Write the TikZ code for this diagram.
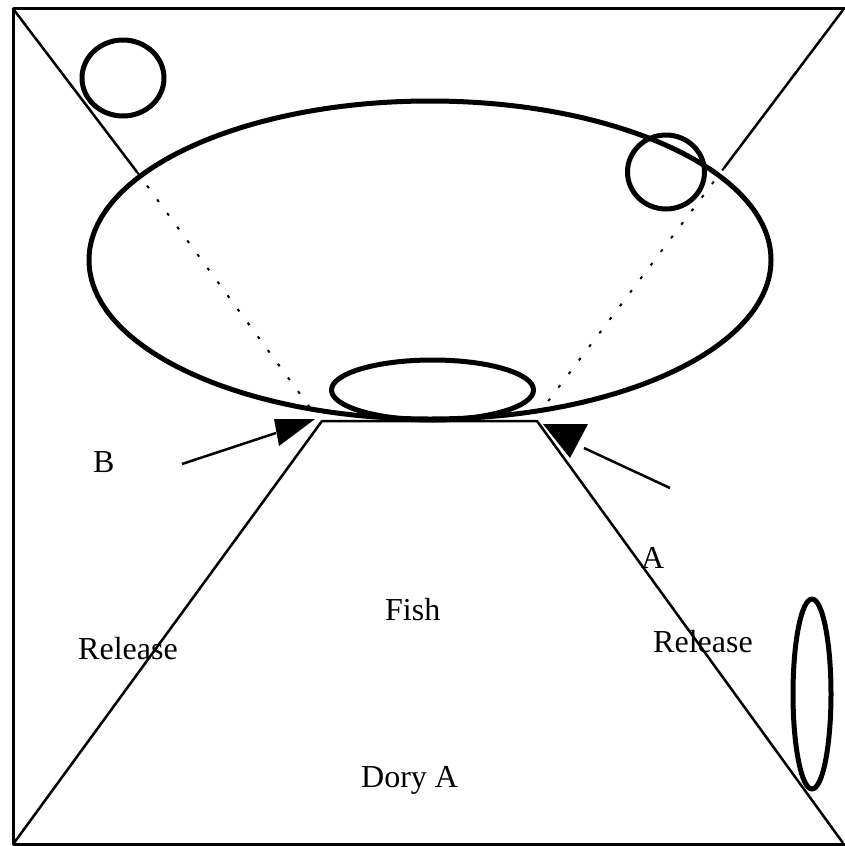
\documentclass[tikz,border=0pt]{standalone}
\usepackage{fontspec}
\setmainfont{Liberation Serif}
\begin{document}
\begin{tikzpicture}[x=1pt,y=-1pt,line join=round]
\tikzset{
  frame/.style={line width=3pt},
  ring/.style={line width=5pt},
  solidray/.style={line width=2.5pt},
  dotray/.style={line width=2pt,dash pattern=on 3pt off 14pt},
  shaft/.style={line width=2.5pt},
  headfill/.style={fill=black},
  lbl/.style={font=\fontsize{32}{38}\selectfont,inner sep=0pt,anchor=base west}
}
\useasboundingbox (0,0) rectangle (845,846);
\fill[white] (0,0) rectangle (845,846);
% frame
\coordinate (ftl) at (13.5,8.5);
\coordinate (ftr) at (846,8.5);
\coordinate (fbl) at (13.5,844);
\coordinate (fbr) at (846,844);
\draw[frame] (ftr) -- (ftl) -- (fbl) -- (fbr);
% ellipses and circles
\draw[ring] (430,260) ellipse [x radius=341, y radius=159];
\draw[ring] (432.5,390) ellipse [x radius=101, y radius=30];
\draw[ring] (123,78) ellipse [x radius=41, y radius=38];
\draw[ring] (666,172) ellipse [x radius=38.5, y radius=37];
\draw[ring] (812,694) ellipse [x radius=19, y radius=95];
% rays
\coordinate (cTL) at (14,10);
\coordinate (xTL) at (137,172);
\coordinate (eTL) at (314,413);
\coordinate (cTR) at (843,10);
\coordinate (xTR) at (724,168);
\coordinate (eTR) at (540,412);
\coordinate (pL) at (322,421);
\coordinate (pR) at (537,421);
\coordinate (cBL) at (14,843);
\coordinate (cBR) at (843,843);
\draw[solidray] (cTL) -- (xTL);
\draw[dotray] (xTL) -- (eTL);
\draw[solidray] (cTR) -- (xTR);
\draw[dotray] (xTR) -- (eTR);
\draw[solidray] (cBL) -- (pL) -- (pR) -- (cBR);
% arrows
\coordinate (aL0) at (182,464);
\coordinate (aL1) at (276,433);
\draw[shaft] (aL0) -- (aL1);
\fill[headfill] (315,419) -- (274,419) -- (279,446) -- cycle;
\coordinate (aR0) at (670,488);
\coordinate (aR1) at (584,448);
\draw[shaft] (aR0) -- (aR1);
\fill[headfill] (543,424) -- (588,424) -- (570,458) -- cycle;
% labels
\node[lbl] (tB) at (93,472) {B};
\node[lbl] (tA) at (641,568) {A};
\node[lbl] (tFish) at (385,620) {Fish};
\node[lbl] (tRelL) at (78,659) {Release};
\node[lbl] (tRelR) at (653,652) {Release};
\node[lbl] (tDory) at (361,787) {Dory A};
\end{tikzpicture}
\end{document}
